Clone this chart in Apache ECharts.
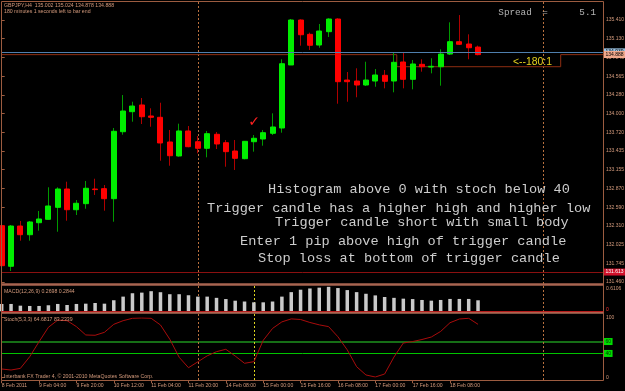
<!DOCTYPE html>
<html><head><meta charset="utf-8">
<script src="https://cdn.jsdelivr.net/npm/echarts@6/dist/echarts.min.js"></script>
<style>html,body{margin:0;padding:0;background:#000;}#c{width:625px;height:391px;}</style>
</head><body><div id="c"></div>
<script>
// ---------- data ----------
const barTimes = ['8 Feb 12:00','8 Feb 16:00','8 Feb 20:00','9 Feb 00:00','9 Feb 04:00','9 Feb 08:00','9 Feb 12:00','9 Feb 16:00','9 Feb 20:00','10 Feb 00:00','10 Feb 04:00','10 Feb 08:00','10 Feb 12:00','10 Feb 16:00','10 Feb 20:00','11 Feb 00:00','11 Feb 04:00','11 Feb 08:00','11 Feb 12:00','11 Feb 16:00','11 Feb 20:00','13 Feb 20:00','14 Feb 00:00','14 Feb 04:00','14 Feb 08:00','14 Feb 12:00','14 Feb 16:00','14 Feb 20:00','15 Feb 00:00','15 Feb 04:00','15 Feb 08:00','15 Feb 12:00','15 Feb 16:00','15 Feb 20:00','16 Feb 00:00','16 Feb 04:00','16 Feb 08:00','16 Feb 12:00','16 Feb 16:00','16 Feb 20:00','17 Feb 00:00','17 Feb 04:00','17 Feb 08:00','17 Feb 12:00','17 Feb 16:00','17 Feb 20:00','18 Feb 00:00','18 Feb 04:00','18 Feb 08:00','18 Feb 12:00','18 Feb 16:00','18 Feb 20:00'];
const opens  = [132.309,131.697,132.304,132.173,132.354,132.405,132.586,132.862,132.550,132.641,132.862,132.867,132.716,133.726,134.028,134.129,133.963,133.943,133.571,133.360,133.737,133.575,133.476,133.687,133.560,133.435,133.319,133.575,133.616,133.702,133.782,134.732,135.410,135.194,135.033,135.234,135.425,134.505,134.490,134.430,134.490,134.576,134.490,134.777,134.516,134.742,134.701,134.706,134.897,135.083,135.048,135.002];
const highs  = [132.360,132.319,132.380,132.380,132.531,132.888,132.888,132.972,132.696,132.983,133.017,132.922,133.782,134.279,134.178,134.234,134.079,134.163,133.752,133.847,133.812,133.661,133.737,133.722,133.601,133.601,133.581,133.676,133.752,134.003,134.818,135.425,135.420,135.219,135.350,135.436,135.436,134.626,134.682,134.781,134.671,134.656,134.923,134.923,134.807,134.818,134.833,134.968,135.375,135.485,135.194,135.024];
const lows   = [131.640,131.626,132.083,132.083,132.234,132.405,132.218,132.384,132.470,132.565,132.772,132.535,132.369,133.681,133.877,133.842,133.801,133.289,133.213,133.349,133.491,133.400,133.340,133.465,133.198,133.149,133.310,133.425,133.515,133.676,133.711,134.732,135.023,134.958,134.992,135.154,134.148,134.178,134.245,134.415,134.404,134.380,134.320,134.380,134.365,134.631,134.606,134.420,134.882,135.033,134.818,134.878];
const closes = [131.706,132.304,132.173,132.365,132.410,132.606,132.862,132.550,132.647,132.873,132.853,132.716,133.732,134.038,134.113,133.952,133.943,133.556,133.364,133.737,133.500,133.476,133.696,133.541,133.425,133.325,133.581,133.627,133.711,133.797,134.751,135.410,135.188,135.029,135.244,135.425,134.480,134.480,134.430,134.505,134.581,134.486,134.772,134.516,134.747,134.706,134.712,134.897,135.083,135.044,134.992,134.888];
const macdValues = [0.180,0.180,0.138,0.131,0.131,0.148,0.180,0.155,0.180,0.187,0.204,0.187,0.271,0.360,0.443,0.458,0.493,0.468,0.419,0.419,0.394,0.360,0.360,0.330,0.300,0.260,0.240,0.220,0.220,0.240,0.360,0.470,0.530,0.560,0.580,0.600,0.570,0.520,0.470,0.430,0.390,0.350,0.330,0.310,0.300,0.278,0.261,0.278,0.303,0.303,0.303,0.2698];
const stochValues = [13.9,12.2,15.0,34.6,59.7,83.9,96.0,95.0,85.0,71.0,70.5,75.5,88.9,95.0,99.0,99.5,99.0,87.8,63.8,33.6,16.1,26.0,36.0,43.0,47.0,35.7,23.5,26.2,62.0,82.0,93.0,98.0,97.0,92.0,88.0,85.0,68.0,46.0,17.8,3.9,0.5,5.5,34.0,57.5,60.0,63.4,67.6,77.0,91.6,97.8,99.0,88.9];
const xTickLabels = ['8 Feb 2011','9 Feb 04:00','9 Feb 20:00','10 Feb 12:00','11 Feb 04:00','11 Feb 20:00','14 Feb 08:00','15 Feb 00:00','15 Feb 16:00','16 Feb 08:00','17 Feb 00:00','17 Feb 16:00','18 Feb 08:00'];
const priceTickLabels = ['131.460','131.745','132.025','132.310','132.590','132.870','133.155','133.435','133.720','134.000','134.280','134.565','134.845','135.130','135.410',''];
const macdTickLabels = ['0','0.6106'];
const stochTickLabels = ['0','100'];
const stochLevels = [60, 40];
const askPrice = 134.930, bidPrice = 134.888, markPrice = 131.613;
const boxFromBar = 42.3, boxToBar = 59.85, boxBottom = 134.706;
const separatorBars = [21, 58];
const triggerBar = 27;

// ---------- layout / style ----------
const X_MAX = 64.38;
const PRICE_MIN = 131.46, PRICE_STEP = 0.28214, PRICE_MAX = PRICE_MIN + 15 * PRICE_STEP;
const MACD_MAX = 0.6106;
const axisCol = '#9c5c40', txtCol = '#d49a7c';
const SF = 'Liberation Sans', MF = 'Liberation Mono';

const idx = barTimes.map((_, i) => i);
const wickData = idx.map(i => [i, opens[i], closes[i], lows[i], highs[i]]);
const bodyData = idx.map(i => [i, opens[i], closes[i], Math.min(opens[i], closes[i]), Math.max(opens[i], closes[i])]);
const macdData = idx.map(i => [i, macdValues[i]]);
const stochData = idx.map(i => [i, stochValues[i]]);
const xTickVals = xTickLabels.map((_, k) => k * 4);
const bidStep = [[0, bidPrice], [boxFromBar, bidPrice], [boxFromBar, boxBottom], [boxToBar, boxBottom], [boxToBar, bidPrice], [X_MAX, bidPrice]];

const endLabel = (txt, bg, fg) => ({ show: true, position: 'end', formatter: txt, backgroundColor: bg, color: fg, fontSize: 5, fontFamily: SF, padding: [1, 1.5], distance: 1 });

const chart = echarts.init(document.getElementById('c'));
const option = {
  backgroundColor: '#000',
  animation: false,
  grid: [
    { left: 1.7, right: 22, top: 1.3, height: 280.7, outerBoundsMode: 'none' },
    { left: 1.7, right: 22, top: 286.4, height: 24.9, outerBoundsMode: 'none' },
    { left: 1.7, right: 22, top: 317.7, height: 59.6, outerBoundsMode: 'none' }
  ],
  xAxis: [0, 1, 2].map(g => ({
    type: 'value', gridIndex: g, min: 0, max: X_MAX, interval: 4,
    offset: g === 2 ? 3.4 : 0,
    axisLine: { show: false, onZero: false }, splitLine: { show: false },
    axisTick: { show: g === 2, length: 2.5, lineStyle: { color: axisCol }, customValues: xTickVals },
    axisLabel: { show: g === 2, customValues: xTickVals, color: txtCol, fontSize: 5.1, fontFamily: SF, align: 'left', margin: 2.5,
      formatter: v => xTickLabels[Math.round(v / 4)] ?? '' }
  })),
  yAxis: [
    { type: 'value', gridIndex: 0, position: 'right', min: PRICE_MIN, max: PRICE_MAX, interval: PRICE_STEP,
      axisLine: { show: false }, splitLine: { show: false },
      axisTick: { show: true, length: 3, lineStyle: { color: axisCol } },
      axisLabel: { color: txtCol, fontSize: 5, fontFamily: SF, margin: 3, showMaxLabel: false,
        formatter: v => priceTickLabels[Math.round((v - PRICE_MIN) / PRICE_STEP)] ?? '' } },
    { type: 'value', gridIndex: 1, position: 'right', min: 0, max: MACD_MAX,
      axisLine: { show: false }, splitLine: { show: false }, axisTick: { show: false }, axisLabel: { show: false } },
    { type: 'value', gridIndex: 2, position: 'right', min: 0, max: 100,
      axisLine: { show: false }, splitLine: { show: false },
      axisTick: { show: true, length: 3, lineStyle: { color: axisCol }, customValues: [0, 100] },
      axisLabel: { customValues: [0, 100], color: txtCol, fontSize: 5, fontFamily: SF, margin: 3,
        formatter: v => stochTickLabels[v === 0 ? 0 : 1] } }
  ],
  series: [
    { type: 'line', xAxisIndex: 0, yAxisIndex: 0, data: bidStep, symbol: 'none', silent: true,
      lineStyle: { color: '#8e2e12', width: 1 }, z: 1,
      markLine: { silent: true, symbol: 'none', z: 6, data: [
        { yAxis: askPrice, lineStyle: { color: '#4f7fae', width: 1, type: 'solid' }, label: endLabel('134.939', '#9cc4e4', '#000') }
      ] } },
    { type: 'candlestick', xAxisIndex: 0, yAxisIndex: 0, data: wickData, barWidth: 0.01, silent: true,
      itemStyle: { color: 'rgba(0,0,0,0)', color0: 'rgba(0,0,0,0)', borderColor: '#009a00', borderColor0: '#b00000', borderWidth: 1 },
      markLine: { silent: true, symbol: 'none', z: 1, data: [
        { yAxis: markPrice, lineStyle: { color: '#8a1010', width: 1, type: 'solid' }, label: endLabel('131.613', '#d0102a', '#fff') }
      ] } },
    { type: 'candlestick', xAxisIndex: 0, yAxisIndex: 0, data: bodyData, barWidth: 5.5, silent: true,
      itemStyle: { color: '#00ee00', color0: '#ff0000', borderColor: '#00ee00', borderColor0: '#ff0000', borderWidth: 1 },
      markLine: { silent: true, symbol: 'none', z: 7, data: [
        { yAxis: bidPrice, lineStyle: { color: 'rgba(0,0,0,0)', width: 1, type: 'solid' }, label: endLabel('134.888', '#f0a88c', '#000') }
      ] } },
    { type: 'bar', xAxisIndex: 1, yAxisIndex: 1, data: macdData, barWidth: 3.5, silent: true,
      itemStyle: { color: '#cacaca' } },
    { type: 'line', xAxisIndex: 2, yAxisIndex: 2, data: stochData, symbol: 'none', silent: true,
      lineStyle: { color: '#a80c0c', width: 1 }, z: 3,
      markLine: { silent: true, symbol: 'none', z: 1, data: [
        { yAxis: stochLevels[0], lineStyle: { color: '#166e16', width: 2, type: 'solid' }, label: endLabel(String(stochLevels[0]), '#00dd00', '#003000') },
        { yAxis: stochLevels[1], lineStyle: { color: '#00c400', width: 1, type: 'solid' }, label: endLabel(String(stochLevels[1]), '#00dd00', '#003000') }
      ] } }
  ]
};
chart.setOption(option);

// ---------- text / frame overlays ----------
const G = [];
const ln = (x1, y1, x2, y2, stroke, w, dash, z) => G.push({ type: 'line', silent: true, z: z == null ? 10 : z, shape: { x1, y1, x2, y2 },
  style: { stroke, lineWidth: w || 1, lineDash: dash || null } });
const tx = (text, x, y, fill, font, align) => G.push({ type: 'text', silent: true, z: 20, x, y,
  style: { text, fill, font, textAlign: align || 'left', textVerticalAlign: 'middle' } });

// vertical dotted markers, positioned through the x scale
separatorBars.forEach(b => {
  const x = Math.round(chart.convertToPixel({ xAxisIndex: 0 }, b)) + 0.5;
  ln(x, 2, x, 380, '#b8703e', 1, [2, 2], 1);
});
{
  const x = Math.round(chart.convertToPixel({ xAxisIndex: 1 }, triggerBar)) + 0.5;
  ln(x, 286, x, 380, '#dcd420', 1, [2, 2], 1);
}

ln(1.5, 1.5, 603.5, 1.5, axisCol);
ln(1.5, 1.5, 1.5, 380.5, axisCol);
ln(603.5, 1.5, 603.5, 380.5, axisCol);
ln(1.5, 380.5, 603.5, 380.5, axisCol);
G.push({ type: 'rect', silent: true, z: 9, shape: { x: 1.5, y: 283.2, width: 602, height: 2.5 }, style: { fill: '#a86450' } });
G.push({ type: 'rect', silent: true, z: 9, shape: { x: 1.5, y: 311.9, width: 602, height: 1.9 }, style: { fill: '#ae6a56' } });
ln(1.5, 311.6, 603.5, 311.6, '#c81e1e');

tx('GBPJPY,H4  135.002 135.024 134.878 134.888', 4, 6, txtCol, '5.2px "' + SF + '"');
tx('180 minutes 1 seconds left to bar end', 4, 12, txtCol, '5.2px "' + SF + '"');
tx('MACD(12,26,9) 0.2698 0.2844', 4, 291.3, txtCol, '5.2px "' + SF + '"');
tx('Stoch(5,3,3) 64.6817 83.2339', 4, 319.3, txtCol, '5.2px "' + SF + '"');
tx('Interbank FX Trader 4, \u00a9 2001-2010 MetaQuotes Software Corp.', 4, 376.6, txtCol, '5.2px "' + SF + '"');

tx('Spread', 498.3, 13, '#b4b4b4', '9.3px "' + MF + '"');
tx('=', 545, 13, '#b4b4b4', '9.3px "' + MF + '"', 'center');
tx('5.1', 579.3, 13, '#b4b4b4', '9.3px "' + MF + '"');
tx('<--180:1', 513, 62, '#e6d21e', '10.4px "' + SF + '"');
tx('\u2713', 254, 122, '#ff2020', '14px "DejaVu Sans"', 'center');

const noteCol = '#cdcdcd', noteFont = '13.6px "' + MF + '"';
tx('Histogram above 0 with stoch below 40', 268, 189.3, noteCol, noteFont);
tx('Trigger candle has a higher high and higher low', 207, 208.3, noteCol, noteFont);
tx('Trigger candle short with small body', 275, 222.7, noteCol, noteFont);
tx('Enter 1 pip above high of trigger candle', 240, 241, noteCol, noteFont);
tx('Stop loss at bottom of trigger candle', 258, 258.3, noteCol, noteFont);

const yMacdTop = chart.convertToPixel({ yAxisIndex: 1 }, MACD_MAX);
const yMacdZero = chart.convertToPixel({ yAxisIndex: 1 }, 0);
tx(macdTickLabels[1], 606, yMacdTop + 2.6, txtCol, '5px "' + SF + '"');
tx(macdTickLabels[0], 606, yMacdZero - 2, '#ff3030', '5px "' + SF + '"');

chart.setOption({ graphic: { elements: G } });
</script>
</body></html>
